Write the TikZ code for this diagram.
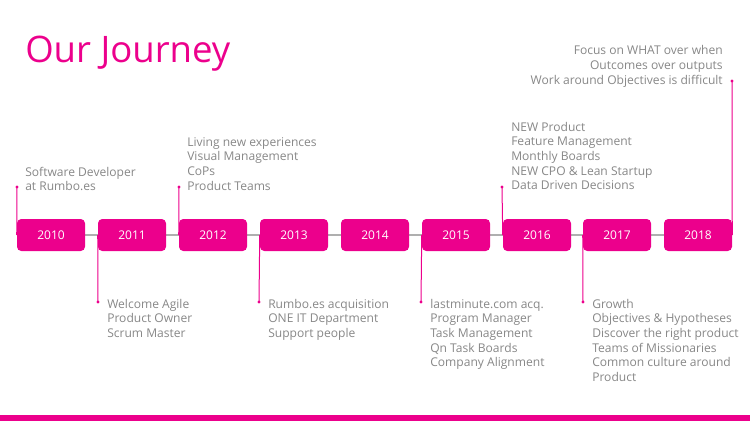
\documentclass[tikz,border=0pt]{standalone}
\usepackage{fontspec}
\setmainfont{Open Sans}
\usetikzlibrary{backgrounds}
\definecolor{brandpink}{RGB}{236,0,140}
\definecolor{txtgray}{RGB}{135,135,135}
\definecolor{linegray}{RGB}{175,175,175}
\begin{document}
\begin{tikzpicture}[x=0.75pt,y=-0.75pt,
  yearbox/.style={fill=brandpink, rounded corners=3.2pt, minimum width=51pt, minimum height=24pt, inner sep=0pt, text=white, font=\fontsize{9}{10}\selectfont},
  conn/.style={draw=brandpink, line width=0.75pt},
  info/.style={text=txtgray, inner sep=0pt, font=\fontsize{9.05}{11.06}\selectfont},
  titletext/.style={text=brandpink, inner sep=0pt, font=\fontsize{27.4}{32}\selectfont},
  timeline/.style={draw=linegray, line width=1.5pt},
]
\useasboundingbox (0,0) rectangle (750,421);

% title
\node[titletext, anchor=base west] (title) at (25,62) {Our Journey};

% year boxes
\node[yearbox] (y2010) at (51,235) {2010};
\node[yearbox] (y2011) at (132,235) {2011};
\node[yearbox] (y2012) at (213,235) {2012};
\node[yearbox] (y2013) at (294,235) {2013};
\node[yearbox] (y2014) at (375,235) {2014};
\node[yearbox] (y2015) at (456,235) {2015};
\node[yearbox] (y2016) at (537,235) {2016};
\node[yearbox] (y2017) at (617,235) {2017};
\node[yearbox] (y2018) at (698,235) {2018};

% dots
\coordinate (d2010) at (17,187);
\coordinate (d2011) at (98,302);
\coordinate (d2012) at (179,187);
\coordinate (d2013) at (259,302);
\coordinate (d2015) at (421,302);
\coordinate (d2016) at (502,187);
\coordinate (d2017) at (583,302);
\coordinate (d2018) at (732,81);

% texts
\node[info, anchor=base west] (t2010) at (25,176) {\begin{tabular}[t]{@{}l@{}}Software Developer\\at Rumbo.es\end{tabular}};
\node[info, anchor=base west] (t2011) at (107,308) {\begin{tabular}[t]{@{}l@{}}Welcome Agile\\Product Owner\\Scrum Master\end{tabular}};
\node[info, anchor=base west] (t2012) at (187,146) {\begin{tabular}[t]{@{}l@{}}Living new experiences\\Visual Management\\CoPs\\Product Teams\end{tabular}};
\node[info, anchor=base west] (t2013) at (268,308) {\begin{tabular}[t]{@{}l@{}}Rumbo.es acquisition\\ONE IT Department\\Support people\end{tabular}};
\node[info, anchor=base west] (t2015) at (430,308) {\begin{tabular}[t]{@{}l@{}}lastminute.com acq.\\Program Manager\\Task Management\\Qn Task Boards\\Company Alignment\end{tabular}};
\node[info, anchor=base west] (t2016) at (511,131) {\begin{tabular}[t]{@{}l@{}}NEW Product\\Feature Management\\Monthly Boards\\NEW CPO \& Lean Startup\\Data Driven Decisions\end{tabular}};
\node[info, anchor=base west] (t2017) at (592,308) {\begin{tabular}[t]{@{}l@{}}Growth\\Objectives \& Hypotheses\\Discover the right product\\Teams of Missionaries\\Common culture around\\Product\end{tabular}};
\node[info, anchor=base east] (t2018) at (723,55) {\begin{tabular}[t]{@{}r@{}}Focus on WHAT over when\\Outcomes over outputs\\Work around Objectives is difficult\end{tabular}};

\begin{pgfonlayer}{background}
  \draw[timeline] (y2010.center) -- (y2018.center);
  \draw[conn] (y2010.west) -- (d2010);
  \draw[conn] (y2011.west) -- (d2011);
  \draw[conn] (y2012.west) -- (d2012);
  \draw[conn] (y2013.west) -- (d2013);
  \draw[conn] (y2015.west) -- (d2015);
  \draw[conn] (y2016.west) -- (d2016);
  \draw[conn] (y2017.west) -- (d2017);
  \draw[conn] (y2018.east) -- (d2018);
\end{pgfonlayer}
\foreach \d in {d2010,d2011,d2012,d2013,d2015,d2016,d2017,d2018}
  \fill[brandpink] (\d) circle (1.3pt);

% bottom bar
\fill[brandpink] (0,415) rectangle (750,421);
\end{tikzpicture}
\end{document}
